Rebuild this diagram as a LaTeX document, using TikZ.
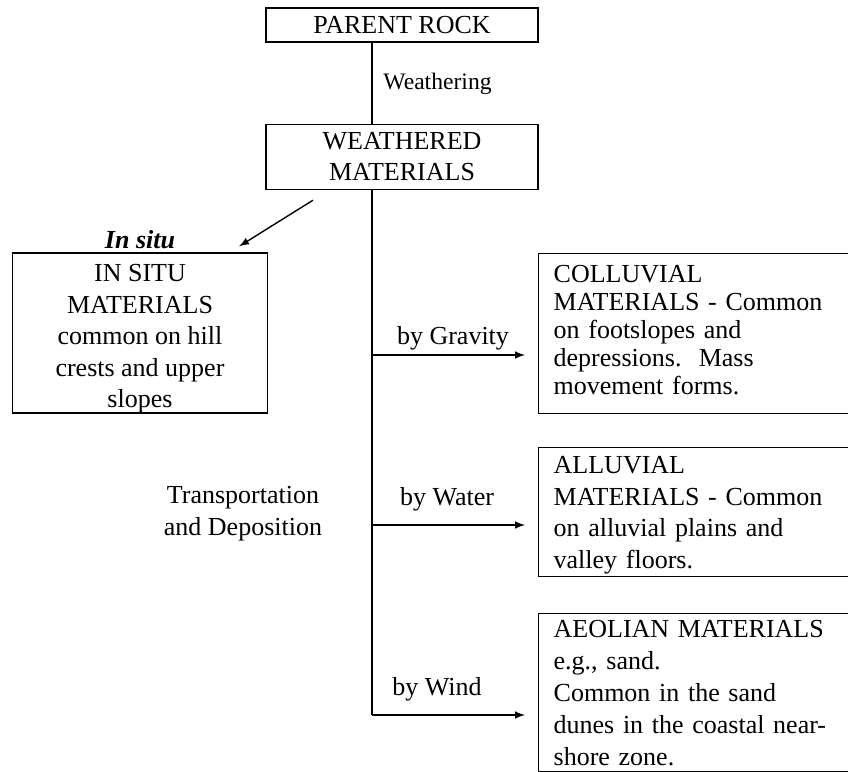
\documentclass[tikz,border=0pt]{standalone}
\usepackage{fontspec}
\setmainfont{Liberation Serif}
\usetikzlibrary{positioning}
\tikzset{
  box/.style={draw,line width=0.7pt,inner sep=0pt,align=center,
    font=\fontsize{13}{15.5}\selectfont},
  sidebox/.style={draw,line width=0.7pt,anchor=north west,align=left,
    inner xsep=7.5pt,inner ysep=0pt,text width=170pt},
  lbl/.style={inner sep=0pt,font=\fontsize{13}{16}\selectfont,align=center},
  link/.style={line width=0.7pt}
}
\begin{document}
\begin{tikzpicture}[x=0.5pt,y=-0.5pt,>=latex]
\useasboundingbox (0,0) rectangle (848,772);
\node[box,minimum width=136pt,minimum height=17pt] (parent) at (402,25) {PARENT ROCK};
\node[box,minimum width=136pt,minimum height=32.5pt] (weathered) at (402,157) {WEATHERED\\MATERIALS};
\node[box,minimum width=127.5pt,minimum height=80pt,font=\fontsize{13}{15.7}\selectfont] (insitu) at (140,333)
  {\rule{0pt}{14.4pt}IN SITU\\MATERIALS\\common on hill\\crests and upper\\slopes};
\node[lbl,font=\fontsize{13}{16}\bfseries\itshape] (insitulbl) at (140,240) {In situ};
\node[sidebox,minimum height=80pt,font=\fontsize{13}{14}\selectfont] (colluvial) at (538,253)
  {COLLUVIAL\\MATERIALS - Common\\on footslopes and\\depressions.\ \ Mass\\movement forms.\rule[-4.2pt]{0pt}{0pt}};
\node[sidebox,minimum height=64.5pt,font=\fontsize{13}{15.8}\selectfont] (alluvial) at (538,447)
  {\rule{0pt}{11.8pt}ALLUVIAL\\MATERIALS - Common\\on alluvial plains and\\valley floors.};
\node[sidebox,minimum height=79pt,font=\fontsize{13}{16}\selectfont] (aeolian) at (538,613)
  {AEOLIAN MATERIALS\\e.g., sand.\\Common in the sand\\dunes in the coastal near-\\shore zone.};
\node[lbl,anchor=west,font=\fontsize{11.8}{14}\selectfont] (weath) at (383,84) {Weathering};
\node[lbl] (transp) at (243,514) {Transportation\\and Deposition};
\node[lbl] (grav) at (453,338) {by Gravity};
\node[lbl] (water) at (447,499) {by Water};
\node[lbl] (wind) at (437,689) {by Wind};
\coordinate (jgrav) at (372,355);
\coordinate (jwater) at (372,525);
\coordinate (jwind) at (372,715);
\draw[link] (parent.south -| jwind) -- (weathered.north -| jwind);
\draw[link] (weathered.south -| jwind) -- (jwind);
\draw[link,->,shorten >=6.5pt] (jgrav) -- (colluvial.west |- jgrav);
\draw[link,->,shorten >=6.5pt] (jwater) -- (alluvial.west |- jwater);
\draw[link,->,shorten >=6.5pt] (jwind) -- (aeolian.west |- jwind);
\draw[link,->] ([shift={(-89,10)}]weathered.south) -- ([shift={(-29,-6)}]insitu.north east);
\end{tikzpicture}
\end{document}
